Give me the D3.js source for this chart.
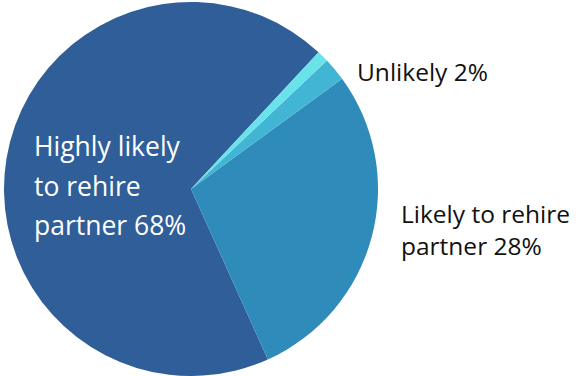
<!DOCTYPE html>
<html>
<head>
<meta charset="utf-8">
<script src="https://cdn.jsdelivr.net/npm/d3@7"></script>
<style>
    body { margin: 0; background: #fff; }
    svg { display: block; }
    text { font-family: "Open Sans", sans-serif; }
</style>
</head>
<body>
<svg width="582" height="376"></svg>
<script>
    // slice data, in drawing order (counter-clockwise from the top-right)
    var categories = ['Highly likely to rehire partner', 'Likely to rehire partner', 'Unlikely', 'Highly unlikely'];
    var values = [68, 28, 2, 1];
    var palette = ['#2f5e98', '#2e8bba', '#42b5d5', '#6ae2e9'];

    // label lines for each slice (empty = no label)
    var labelLines = [
        ['Highly likely', 'to rehire', 'partner 68%'],
        ['Likely to rehire', 'partner 28%'],
        ['Unlikely 2%'],
        []
    ];

    var svg = d3.select('svg');
    var cx = 191, cy = 189, radius = 187;

    var data = categories.map(function (c, i) {
        return {name: c, value: values[i]};
    });

    var start = (360 + 43) * Math.PI / 180;
    var pie = d3.pie()
        .sort(null)
        .value(function (d) { return d.value; })
        .startAngle(start)
        .endAngle(start - 2 * Math.PI);

    var arc = d3.arc().innerRadius(0).outerRadius(radius);

    var g = svg.append('g').attr('transform', 'translate(' + cx + ',' + cy + ')');

    g.selectAll('path')
        .data(pie(data))
        .enter().append('path')
        .attr('d', arc)
        .attr('fill', function (d, i) { return palette[i]; });

    // label placement: x, first baseline, line height, size, colour
    var labelPos = [
        {x: 34, y: 156, dy: 39.5, size: 26.5, color: '#fff'},
        {x: 401, y: 223, dy: 32, size: 24.5, color: '#111'},
        {x: 357, y: 81, dy: 32, size: 24.5, color: '#111'},
        null
    ];

    labelLines.forEach(function (lines, i) {
        var p = labelPos[i];
        if (!p) return;
        var t = svg.append('text')
            .attr('x', p.x)
            .attr('y', p.y)
            .attr('fill', p.color)
            .style('font-size', p.size + 'px');
        lines.forEach(function (line, j) {
            t.append('tspan')
                .attr('x', p.x)
                .attr('y', p.y + j * p.dy)
                .text(line);
        });
    });
</script>
</body>
</html>
